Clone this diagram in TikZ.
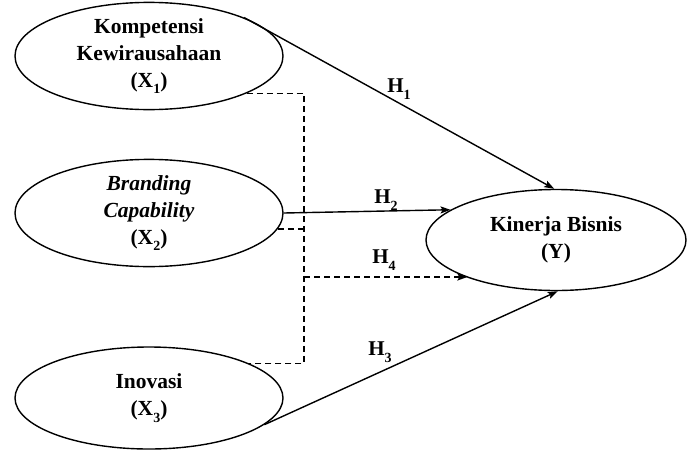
\documentclass[tikz,border=0pt]{standalone}
\usepackage{fontspec}
\setmainfont{Liberation Serif}
\usetikzlibrary{arrows.meta,shapes.geometric}
\newcommand\mysub[1]{\raisebox{-0.32em}{\fontsize{14}{14}\selectfont #1}}
\begin{document}
\begin{tikzpicture}[x=1pt,y=-1pt,
  var/.style={draw, ellipse, line width=1.4pt, minimum width=268pt, minimum height=102pt,
    inner sep=0pt, align=center, font=\fontsize{21.5}{27}\selectfont\bfseries},
  arr/.style={line width=1.4pt, -{Stealth[length=10pt,width=7pt,inset=2pt]}},
  dline/.style={line width=1.4pt, dash pattern=on 6pt off 4pt},
  hlab/.style={font=\fontsize{21}{22}\selectfont\bfseries, inner sep=0pt}]
\useasboundingbox (0,0) rectangle (687,450);
\node[var] (x1) at (149,56) {Kompetensi\\Kewirausahaan\\(X\mysub{1})};
\node[var] (x2) at (149,213) {\textit{Branding}\\\textit{Capability}\\(X\mysub{2})};
\node[var] (x3) at (149,398) {Inovasi\\(X\mysub{3})};
\node[var, minimum width=260pt, minimum height=101pt] (y) at (556,240) {Kinerja Bisnis\\(Y)};
\coordinate (vline) at (304,0);
\coordinate (h4) at (304,277);
% solid paths
\draw[arr] (x1.22) -- (y.92);
\draw[arr] (x2.east) -- (y.164);
\draw[arr] (x3.-13) -- (y.-88);
% dashed interaction
\draw[dline] (x1.-21) -- (x1.-21 -| vline) |- (x3.19);
\draw[dline] (x2.-7) -- (x2.-7 -| vline);
\draw[dline, arr] (h4) -- (h4 -| y.203);
% labels
\node[hlab] (l1) at (399,89) {H\mysub{1}};
\node[hlab] (l2) at (386,200) {H\mysub{2}};
\node[hlab] (l4) at (384,260) {H\mysub{4}};
\node[hlab] (l3) at (380,352) {H\mysub{3}};
\end{tikzpicture}
\end{document}
